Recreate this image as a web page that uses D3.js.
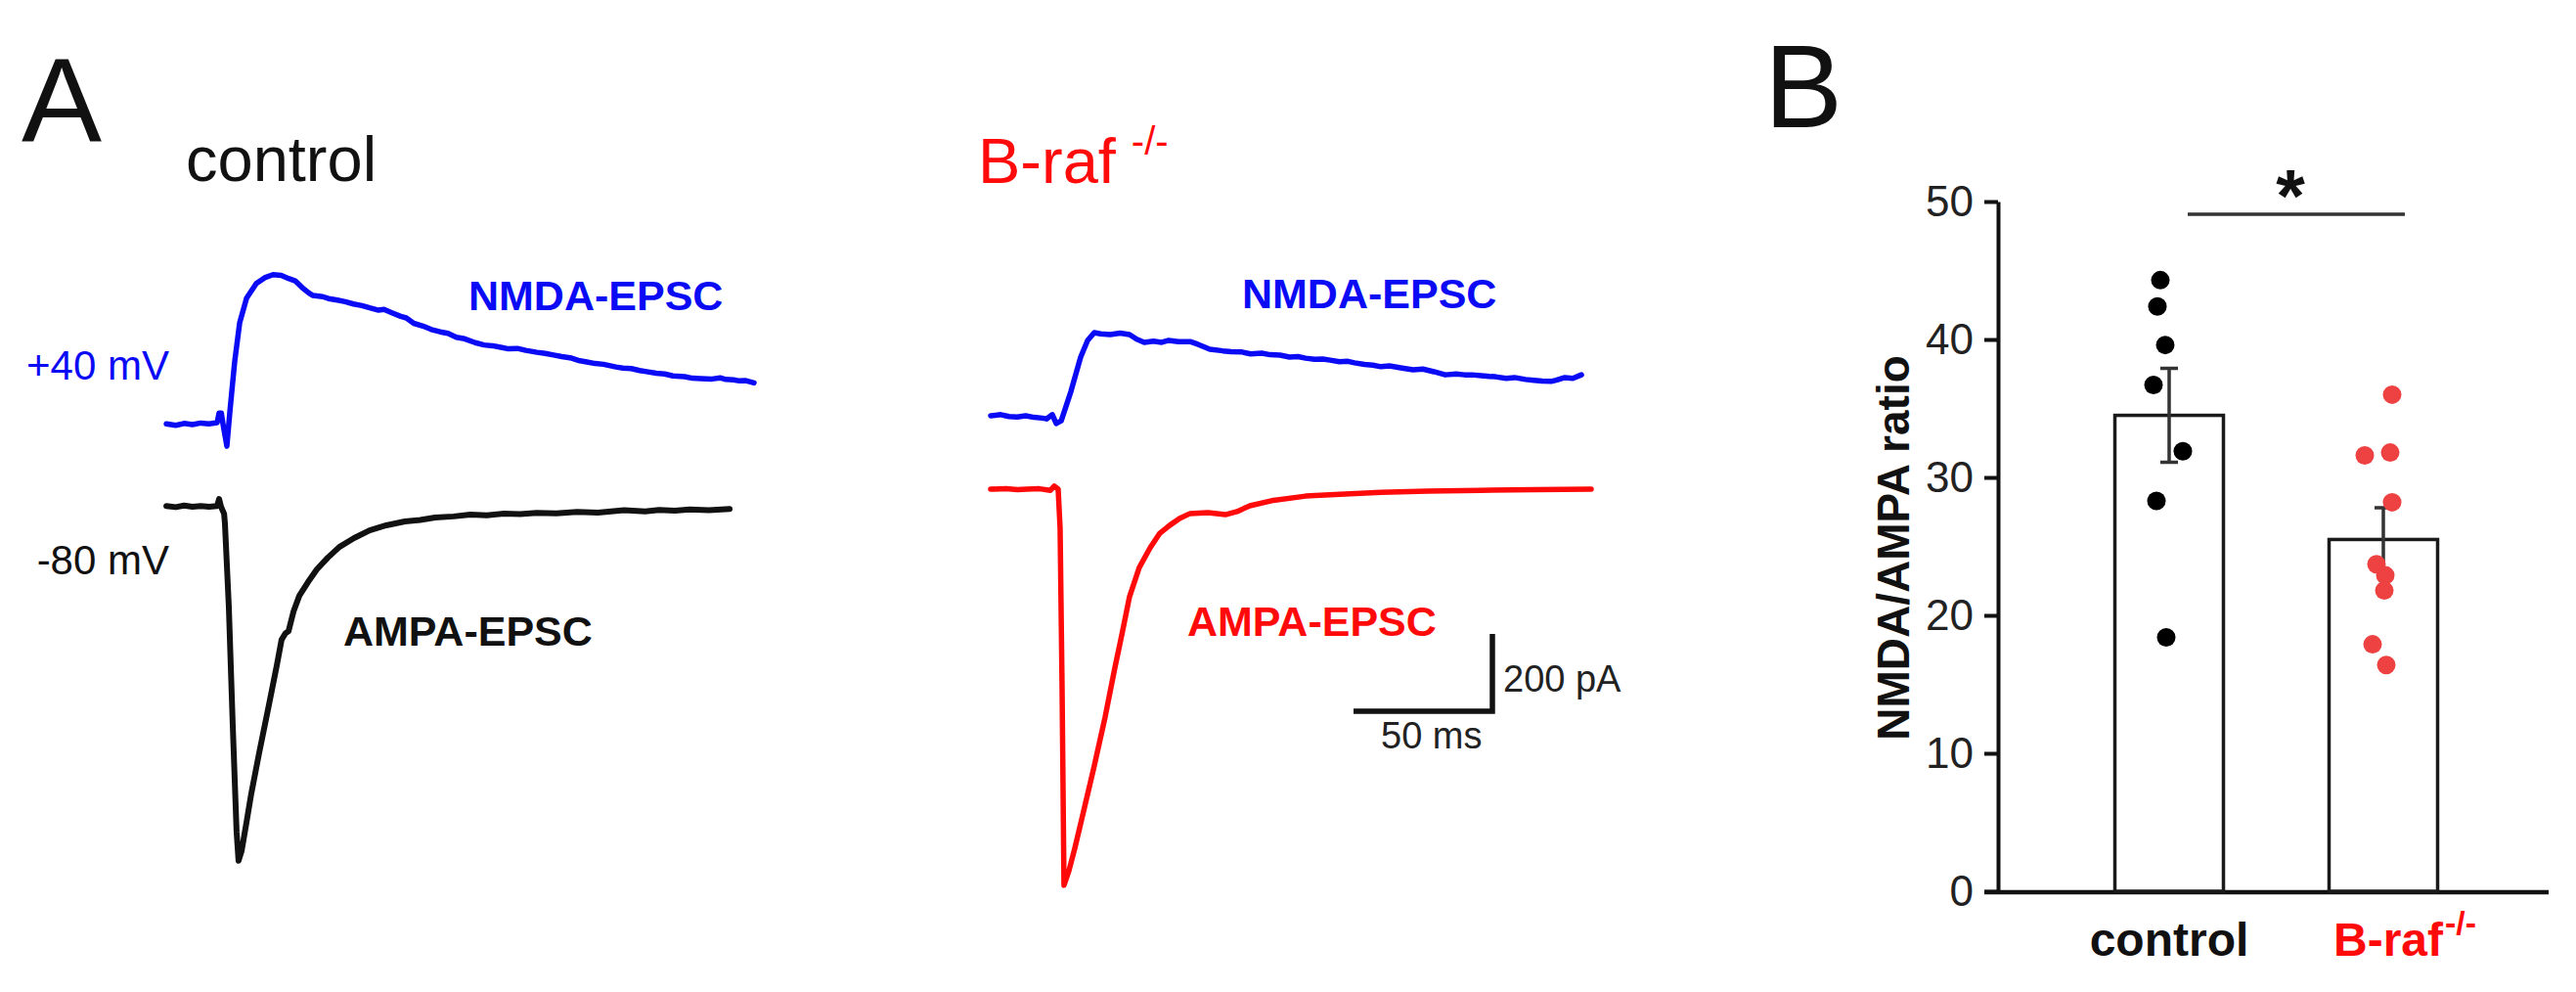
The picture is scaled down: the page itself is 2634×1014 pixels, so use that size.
<!DOCTYPE html>
<html><head><meta charset="utf-8">
<script src="https://cdn.jsdelivr.net/npm/d3@7"></script>
<style>
html,body{margin:0;padding:0;background:#fff;}
svg{display:block;}
text{font-family:"Liberation Sans", Arial, Helvetica, sans-serif;}
</style>
</head><body>
<svg id="chart" width="2634" height="1014"></svg>
<script>
// ---------- Panel A: traces, [time (ms from stimulus), current (pA rel. baseline)] ----------
const ctrlNmda = [[-20.4,2],[-17,-2],[-14,3],[-11,0],[-8,4],[-5,2],[-2.1,5],[-1.4,30],[-0.6,30],[0,2],[1.4,-56],[2.5,35],[4.2,162],[6.0,263],[8.5,327],[12.0,365],[15,380],[18.0,388],[21,386],[23.6,378],[26,372],[28.9,352],[31,340],[32.4,334],[35.9,331],[38,326],[41.2,322],[44,318],[47,312],[50,308],[52.8,302],[56,296],[58,298],[60.6,290],[64,280],[66,276],[68.7,262],[72,255],[75,246],[78.2,240],[81,236],[84,226],[87,222],[90.8,212],[94,206],[97,204],[100,200],[102.8,196],[106,197],[109,192],[113.0,187],[116,184],[119,180],[122,176],[125.5,172],[128.5,165],[131,162],[134,158],[137,156],[141.5,149],[144,146],[147,145],[150,140],[152.5,137],[156,133],[159,131],[162,126],[166.2,124],[169,120],[172,119],[176.1,118],[179,121],[181,117],[183.8,116],[186,113],[188,114],[191.2,108]];
const ctrlAmpa = [[-20.4,2],[-17,-1],[-14,3],[-11,0],[-8,2],[-5,0],[-2.1,2],[-1.4,20],[-0.7,0],[0.4,-18],[0.7,-43],[2.1,-258],[3.5,-562],[4.9,-841],[5.6,-916],[6.7,-891],[8.5,-815],[10.2,-742],[13.0,-638],[16.5,-514],[19.4,-410],[21.1,-344],[22.5,-327],[23.6,-322],[25.4,-271],[27.5,-230],[30.6,-195],[33.8,-162],[37.7,-132],[41.9,-104],[47.2,-81],[52.8,-61],[58.8,-48],[65.5,-38],[71,-34],[76.4,-28],[83,-25],[89.1,-20],[95,-22],[101.1,-18],[107,-19],[113.0,-16],[120,-17],[127.5,-13],[135,-15],[144.4,-9],[152,-12],[157,-8],[162.7,-10],[168,-7],[175,-9],[182.4,-6]];
const brafNmda = [[-23.6,0],[-20,3],[-17,-2],[-14.1,-3],[-11,0],[-8,-4],[-5,-6],[-3.5,-8],[-1.4,3],[0,-20],[1.8,-13],[5.3,63],[8.8,152],[11.3,195],[13.7,215],[16,212],[19.4,210],[23,214],[26.4,210],[29,198],[31.7,190],[35,193],[38,190],[40.5,195],[44,192],[48.2,192],[51,185],[55.3,172],[60,168],[63,166],[66.9,165],[70,160],[74,162],[77,158],[80.6,157],[84,152],[87,153],[89.8,149],[93,146],[96,147],[98.6,144],[102,140],[105,141],[107.4,137],[111,133],[114,131],[116.9,127],[120,129],[124,124],[128.5,119],[132,121],[136,114],[140.1,106],[144,108],[147,106],[149.6,106],[153,104],[156,102],[158.1,101],[162,97],[165,99],[169,94],[172,92],[175,90],[178.2,89],[180,92],[183.1,99],[186,97],[189.1,106]];
const brafAmpa = [[-23.6,0],[-18,1],[-14,-1],[-10.6,0],[-6,1],[-2.1,-3],[-0.7,8],[0.7,0],[1.4,-101],[2.1,-506],[2.8,-1025],[4.6,-987],[6.7,-929],[10.2,-823],[13.7,-716],[17.6,-590],[21.1,-463],[23.9,-367],[26.4,-278],[29.9,-203],[33.8,-152],[37.3,-114],[40.8,-94],[44.4,-76],[48.2,-63],[54.6,-61],[60.9,-66],[65.1,-58],[69.7,-43],[77.5,-30],[89.8,-18],[102.1,-13],[116.9,-8],[133.8,-5],[152.8,-3],[172.5,-1],[192.6,0]];
const scaleBarMs = 50;
const scaleBarPa = 200;

// ---------- Panel B: NMDA/AMPA ratio ----------
const categories = ["control", "B-raf"];
const barMeans = [34.5, 25.5];
const barSems = [3.4, 2.3];
const controlValues = [44.3, 42.4, 39.6, 36.7, 31.9, 28.3, 18.4];
const brafValues = [36.0, 31.6, 31.8, 28.2, 23.7, 22.9, 21.8, 17.9, 16.4];
const yTicks = [0, 10, 20, 30, 40, 50];

// layout-only jitter (px) for the scatter dots
const controlJitter = [-9, -12, -4, -16, 14, -13, -3];
const brafJitter = [9, -19, 7, 9, -7, 2, 1, -11, 3];

const BLUE = "#0a0af5", RED = "#ff0a0a", DOTRED = "#ee4242", INK = "#111";
const svg = d3.select("#chart");

// ----- Panel A -----
const msPx = 142 / 50, paPx = 79 / 200;
function tScale(x0){ return d3.scaleLinear().domain([0, 50]).range([x0, x0 + 50 * msPx]); }
function iScale(y0){ return d3.scaleLinear().domain([0, 200]).range([y0, y0 - 200 * paPx]); }

const traces = [
  {data: ctrlNmda, x0: 228, y0: 434, color: BLUE, w: 5.5},
  {data: ctrlAmpa, x0: 228, y0: 518, color: INK, w: 6},
  {data: brafNmda, x0: 1080, y0: 425, color: BLUE, w: 5.5},
  {data: brafAmpa, x0: 1080, y0: 500, color: RED, w: 5.5}
];
traces.forEach(tr => {
  const xs = tScale(tr.x0), ys = iScale(tr.y0);
  svg.append("path")
    .attr("d", d3.line().x(d => xs(d[0])).y(d => ys(d[1]))(tr.data))
    .attr("fill", "none").attr("stroke", tr.color)
    .attr("stroke-width", tr.w).attr("stroke-linejoin", "round").attr("stroke-linecap", "round");
});

// scale bar
const sbx = tScale(1384), sby = iScale(727);
svg.append("path")
  .attr("d", `M${sbx(0)},${sby(0)}H${sbx(scaleBarMs)}V${sby(scaleBarPa)}`)
  .attr("fill", "none").attr("stroke", INK).attr("stroke-width", 5.5);
svg.append("text").attr("x", 1537).attr("y", 707).attr("font-size", 38).attr("fill", "#222").text(scaleBarPa + " pA");
svg.append("text").attr("x", 1412).attr("y", 765).attr("font-size", 38).attr("fill", "#222").text(scaleBarMs + " ms");

// texts of panel A
function txt(x, y, s, size, color, opts = {}) {
  const t = svg.append("text").attr("x", x).attr("y", y).attr("font-size", size)
    .attr("fill", color).text(s);
  if (opts.bold) t.attr("font-weight", "bold");
  if (opts.anchor) t.attr("text-anchor", opts.anchor);
  return t;
}
txt(63, 145, "A", 123, INK, {anchor: "middle"});
txt(190, 185, "control", 65, INK);
const braf = txt(1000, 187, "B-raf", 65, RED);
const bw = braf.node().getComputedTextLength();
txt(1000 + bw + 16, 158, "-/-", 40, RED);
txt(173, 388, "+40 mV", 42, BLUE, {anchor: "end"});
txt(173, 587, "-80 mV", 42, INK, {anchor: "end"});
txt(479, 317, "NMDA-EPSC", 43, BLUE, {bold: true});
txt(351, 660, "AMPA-EPSC", 43, INK, {bold: true});
txt(1270, 315, "NMDA-EPSC", 43, BLUE, {bold: true});
txt(1214, 650, "AMPA-EPSC", 43, RED, {bold: true});

// ----- Panel B -----
txt(1844, 130, "B", 120, INK, {anchor: "middle"});

const y = d3.scaleLinear().domain([0, 50]).range([911, 206]);
const x = d3.scalePoint().domain(categories).range([2218, 2437]);
const barW = 111;
const axisX = 2043;

const yAxis = svg.append("g").attr("transform", `translate(${axisX},0)`)
  .call(d3.axisLeft(y).tickValues(yTicks).tickSize(14).tickPadding(11).tickSizeOuter(0));
yAxis.select(".domain").attr("stroke", INK).attr("stroke-width", 4);
yAxis.selectAll(".tick line").attr("stroke", INK).attr("stroke-width", 4);
yAxis.selectAll(".tick text").attr("font-size", 44).attr("fill", "#222")
  .attr("font-family", '"Liberation Sans", Arial, sans-serif');

// x axis baseline
svg.append("line").attr("x1", axisX - 14).attr("x2", 2606)
  .attr("y1", y(0) + 1).attr("y2", y(0) + 1).attr("stroke", INK).attr("stroke-width", 4.5);

// bars
svg.selectAll("rect.bar").data(categories).join("rect").attr("class", "bar")
  .attr("x", d => x(d) - barW / 2).attr("width", barW)
  .attr("y", (d, i) => y(barMeans[i])).attr("height", (d, i) => y(0) - y(barMeans[i]))
  .attr("fill", "#fff").attr("stroke", "#1a1a1a").attr("stroke-width", 3.5);

// error bars
categories.forEach((c, i) => {
  const cx = x(c), top = y(barMeans[i] + barSems[i]), bot = y(barMeans[i] - barSems[i]);
  svg.append("path").attr("d", `M${cx},${top}V${bot}M${cx - 9},${top}H${cx + 9}M${cx - 9},${bot}H${cx + 9}`)
    .attr("stroke", "#333").attr("stroke-width", 3.5).attr("fill", "none");
});

// dots
svg.selectAll("circle.ctrl").data(controlValues).join("circle").attr("class", "ctrl")
  .attr("cx", (d, i) => x("control") + controlJitter[i]).attr("cy", d => y(d))
  .attr("r", 9.5).attr("fill", "#000");
svg.selectAll("circle.braf").data(brafValues).join("circle").attr("class", "braf")
  .attr("cx", (d, i) => x("B-raf") + brafJitter[i]).attr("cy", d => y(d))
  .attr("r", 9.5).attr("fill", DOTRED);

// significance
svg.append("line").attr("x1", 2237).attr("x2", 2459).attr("y1", 219).attr("y2", 219)
  .attr("stroke", "#333").attr("stroke-width", 3.5);
txt(2342, 226, "*", 76, INK, {anchor: "middle", bold: true});

// y title
svg.append("text").attr("transform", `translate(1952,560) rotate(-90)`)
  .attr("text-anchor", "middle").attr("font-size", 46).attr("font-weight", "bold")
  .attr("fill", INK).text("NMDA/AMPA ratio");

// x labels
txt(x("control"), 977, "control", 48, INK, {anchor: "middle", bold: true});
const bl = txt(0, 977, "B-raf", 48, RED, {bold: true});
const blw = bl.node().getComputedTextLength();
bl.attr("x", x("B-raf") + 5 - blw / 2);
txt(x("B-raf") + 5 + blw / 2 + 2, 955, "-/-", 34, RED, {bold: true});
</script>
</body></html>
